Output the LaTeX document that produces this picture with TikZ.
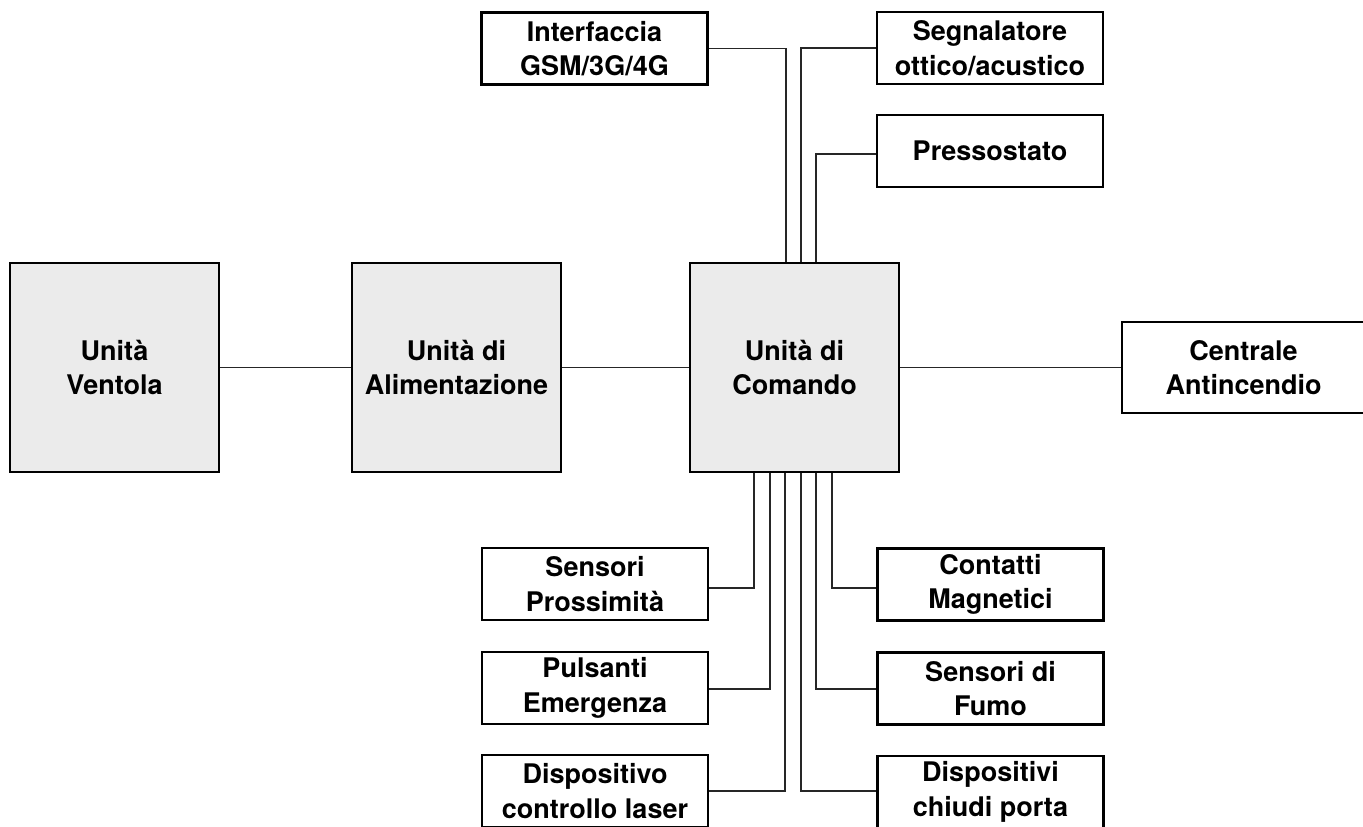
\documentclass[tikz,border=0pt]{standalone}
\usepackage{fontspec}
\setmainfont{TeX Gyre Heros}
\definecolor{boxgray}{HTML}{EBEBEB}
\begin{document}
\begin{tikzpicture}[x=0.5pt,y=-0.5pt,
  blk/.style={draw=black,line width=1.2pt,inner sep=0pt,align=center,
    font=\fontsize{13.5}{17.2}\selectfont\bfseries},
  bigbox/.style={blk,fill=boxgray,minimum width=104.5pt,minimum height=104.5pt},
  smallbox/.style={blk,fill=white,minimum width=113pt,minimum height=36pt},
  wire/.style={line width=0.55pt,draw=black!85}]
\useasboundingbox (0,0) rectangle (1363,826);
\clip (0,0) rectangle (1363,826);
% main boxes
\node[bigbox] (vent) at (114.5,367.5) {Unità\\Ventola};
\node[bigbox] (alim) at (456.5,367.5) {Unità di\\Alimentazione};
\node[bigbox] (cmd)  at (794.5,367.5) {Unità di\\Comando};
\node[blk,minimum width=121.5pt,minimum height=45.5pt] (cent) at (1243.5,367.5) {Centrale\\Antincendio};
% top boxes
\node[smallbox] (gsm) at (594.5,48.5) {Interfaccia\\GSM/3G/4G};
\node[smallbox] (segn) at (990,48) {Segnalatore\\ottico/acustico};
\node[smallbox] (press) at (990,151) {Pressostato};
% bottom left
\node[smallbox] (prox) at (595,584) {Sensori\\Prossimità};
\node[smallbox] (puls) at (595,688) {Pulsanti\\Emergenza};
\node[smallbox] (laser) at (595,791) {Dispositivo\\controllo laser};
% bottom right
\node[smallbox] (cont) at (990.5,584.5) {Contatti\\Magnetici};
\node[smallbox] (fumo) at (990.5,688.5) {Sensori di\\Fumo};
\node[smallbox] (porta) at (990.5,792) {Dispositivi\\chiudi porta};
% horizontal chain
\draw[wire] (vent) -- (alim);
\draw[wire] (alim) -- (cmd);
\draw[wire] (cmd) -- (cent);
% top connectors
\draw[wire] (gsm.east) -| (786,0 |- cmd.north);
\draw[wire] (segn.west) -| (801,0 |- cmd.north);
\draw[wire] ([yshift=-1.5pt]press.west) -| (816,0 |- cmd.north);
% bottom connectors
\draw[wire] ([yshift=-2pt]prox.east) -| (754,0 |- cmd.south);
\draw[wire] ([yshift=-0.5pt]puls.east) -| (770,0 |- cmd.south);
\draw[wire] (laser.east) -| (785,0 |- cmd.south);
\draw[wire] ([yshift=0.5pt]porta.west) -| (801,0 |- cmd.south);
\draw[wire] ([yshift=-0.25pt]fumo.west) -| (816,0 |- cmd.south);
\draw[wire] ([yshift=-1.75pt]cont.west) -| (832,0 |- cmd.south);
\end{tikzpicture}
\end{document}
